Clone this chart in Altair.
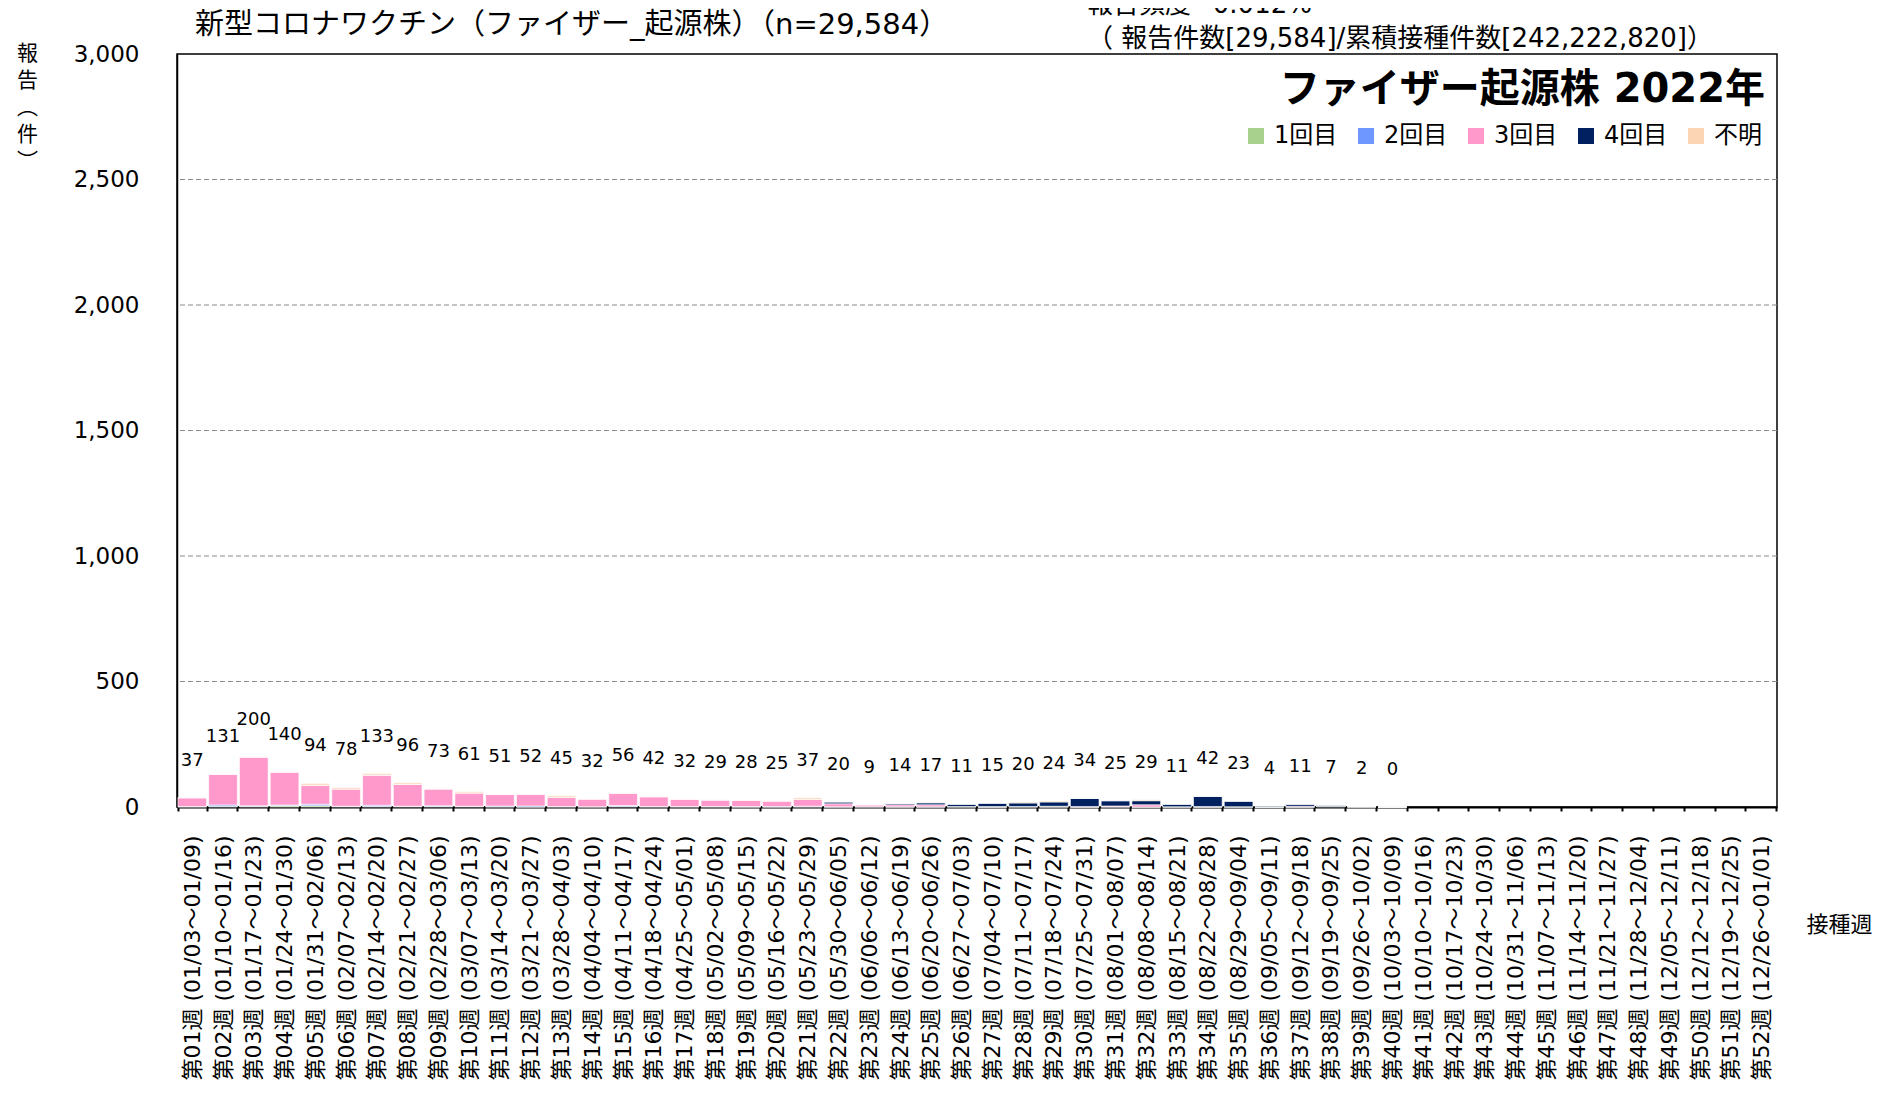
import altair as alt
import pandas as pd

weeks = [
    "第01週 (01/03～01/09)", "第02週 (01/10～01/16)", "第03週 (01/17～01/23)", "第04週 (01/24～01/30)",
    "第05週 (01/31～02/06)", "第06週 (02/07～02/13)", "第07週 (02/14～02/20)", "第08週 (02/21～02/27)",
    "第09週 (02/28～03/06)", "第10週 (03/07～03/13)", "第11週 (03/14～03/20)", "第12週 (03/21～03/27)",
    "第13週 (03/28～04/03)", "第14週 (04/04～04/10)", "第15週 (04/11～04/17)", "第16週 (04/18～04/24)",
    "第17週 (04/25～05/01)", "第18週 (05/02～05/08)", "第19週 (05/09～05/15)", "第20週 (05/16～05/22)",
    "第21週 (05/23～05/29)", "第22週 (05/30～06/05)", "第23週 (06/06～06/12)", "第24週 (06/13～06/19)",
    "第25週 (06/20～06/26)", "第26週 (06/27～07/03)", "第27週 (07/04～07/10)", "第28週 (07/11～07/17)",
    "第29週 (07/18～07/24)", "第30週 (07/25～07/31)", "第31週 (08/01～08/07)", "第32週 (08/08～08/14)",
    "第33週 (08/15～08/21)", "第34週 (08/22～08/28)", "第35週 (08/29～09/04)", "第36週 (09/05～09/11)",
    "第37週 (09/12～09/18)", "第38週 (09/19～09/25)", "第39週 (09/26～10/02)", "第40週 (10/03～10/09)",
    "第41週 (10/10～10/16)", "第42週 (10/17～10/23)", "第43週 (10/24～10/30)", "第44週 (10/31～11/06)",
    "第45週 (11/07～11/13)", "第46週 (11/14～11/20)", "第47週 (11/21～11/27)", "第48週 (11/28～12/04)",
    "第49週 (12/05～12/11)", "第50週 (12/12～12/18)", "第51週 (12/19～12/25)", "第52週 (12/26～01/01)",
]

dose_names = ["1回目", "2回目", "3回目", "4回目", "不明"]
dose_colors = ["#A9D18E", "#6E98FF", "#FF99CC", "#002060", "#FCD5B4"]

# weeks 1-40 (weeks 41-52 have no reports)
dose1 = [1, 3, 3, 5, 5, 2, 2, 2, 2, 2, 1, 0, 1, 1, 2, 1, 1, 1, 0, 0,
         1, 0, 1, 0, 0, 1, 0, 1, 0, 0, 1, 0, 0, 0, 0, 0, 0, 2, 0, 0]
dose2 = [1, 5, 2, 3, 6, 1, 5, 1, 3, 1, 3, 4, 1, 0, 4, 1, 1, 1, 2, 2,
         2, 1, 0, 1, 1, 0, 0, 0, 2, 0, 0, 0, 1, 0, 1, 0, 0, 0, 1, 0]
dose3 = [35, 122, 194, 131, 76, 69, 120, 87, 67, 53, 46, 47, 37, 31, 49, 39, 29, 26, 25, 22,
         28, 12, 8, 8, 8, 1, 2, 1, 1, 2, 3, 9, 0, 2, 0, 0, 3, 0, 0, 0]
dose4 = [0, 0, 0, 0, 0, 0, 0, 0, 0, 0, 0, 0, 0, 0, 0, 0, 0, 0, 0, 0,
         0, 7, 0, 5, 8, 9, 13, 14, 17, 32, 21, 16, 10, 40, 22, 4, 8, 5, 1, 0]
unknown = [0, 1, 1, 1, 7, 6, 6, 6, 1, 5, 1, 1, 6, 0, 1, 1, 1, 1, 1, 1,
           6, 0, 0, 0, 0, 0, 0, 4, 4, 0, 0, 4, 0, 0, 0, 0, 0, 0, 0, 0]
totals = [37, 131, 200, 140, 94, 78, 133, 96, 73, 61, 51, 52, 45, 32, 56, 42, 32, 29, 28, 25,
          37, 20, 9, 14, 17, 11, 15, 20, 24, 34, 25, 29, 11, 42, 23, 4, 11, 7, 2, 0]

y_ticks = [0, 500, 1000, 1500, 2000, 2500, 3000]
grid_values = [500, 1000, 1500, 2000, 2500]

main_title = "新型コロナワクチン（ファイザー_起源株）（n=29,584）"
note_line1 = "報告頻度=0.012%"
note_line2 = "（ 報告件数[29,584]/累積接種件数[242,222,820]）"
inner_title = "ファイザー起源株 2022年"

series = [dose1, dose2, dose3, dose4, unknown]
rows = []
for i in range(len(totals)):
    for j, name in enumerate(dose_names):
        rows.append({"week": weeks[i], "dose": name, "ord": j, "count": series[j][i]})
bars_df = pd.DataFrame(rows)
labels_df = pd.DataFrame({"week": weeks[:len(totals)], "total": totals})

CJK = "Noto Sans CJK JP"
LAT = "DejaVu Sans, Noto Sans CJK JP"

x_scale = alt.Scale(domain=weeks, paddingInner=0.07, paddingOuter=0.03)
y_scale = alt.Scale(domain=[0, 3000], nice=False)

grid = alt.Chart(pd.DataFrame({"g": grid_values})).mark_rule(
    color="#8a8a8a", strokeDash=[5, 3], strokeWidth=1
).encode(y=alt.Y("g:Q", scale=y_scale))

bars = alt.Chart(bars_df).mark_bar(stroke="white", strokeWidth=0.6).encode(
    x=alt.X("week:N", scale=x_scale, sort=weeks,
            axis=alt.Axis(title="接種週", titleX=1629, titleY=117, titleAlign="left",
                          titleBaseline="middle", titleAngle=0, titleFont=CJK,
                          titleFontSize=22, titleFontWeight="normal", titleColor="black",
                          labelAngle=270, labelFont=LAT, labelFontSize=22, labelColor="black",
                          labelPadding=24, labelLimit=400, labelOverlap=False,
                          tickSize=4, tickWidth=2, tickColor="black", tickBand="extent",
                          domainColor="black", domainWidth=2)),
    y=alt.Y("count:Q", stack="zero", scale=y_scale,
            axis=alt.Axis(values=y_ticks, format=",d", grid=False, ticks=False,
                          labelFont=LAT, labelFontSize=23, labelColor="black", labelPadding=38,
                          domainColor="black", domainWidth=1.5,
                          title=["報", "告", "︵", "件", "︶"], titleAngle=0, titleX=-150,
                          titleY=-12, titleAlign="center", titleBaseline="top",
                          titleFont=CJK, titleFontSize=21, titleFontWeight="normal",
                          titleColor="black", titleLineHeight=27)),
    color=alt.Color("dose:N", scale=alt.Scale(domain=dose_names, range=dose_colors),
                    legend=alt.Legend(title=None, orient="none", legendX=1067, legendY=70,
                                      direction="horizontal", symbolType="square",
                                      symbolSize=256, symbolStrokeWidth=0, symbolOpacity=1,
                                      labelFont=LAT, labelFontSize=24, labelColor="black",
                                      labelOffset=6, columnPadding=16)),
    order=alt.Order("ord:Q", sort="ascending"),
)

labels = alt.Chart(labels_df).mark_text(
    dy=-37, fontSize=18, font=LAT, baseline="middle", color="black"
).encode(x=alt.X("week:N", scale=x_scale, sort=weeks), y=alt.Y("total:Q", scale=y_scale),
         text=alt.Text("total:Q"))

def note(text, x, y, size, align="left", baseline="middle", weight="normal"):
    return alt.Chart(pd.DataFrame({"t": [text]})).mark_text(
        font=LAT, fontSize=size, align=align, baseline=baseline, fontWeight=weight, color="black"
    ).encode(x=alt.value(x), y=alt.value(y), text="t:N")

chart = alt.layer(
    grid, bars, labels,
    note(main_title, 18, -29, 29),
    note(note_line1, 910, -41, 26, baseline="alphabetic"),
    note(note_line2, 910, -7, 26, baseline="alphabetic"),
    note(inner_title, 1588, 36, 40, align="right", weight="bold"),
).properties(
    width=1600, height=753,
    autosize=alt.AutoSizeParams(type="none"),
    padding={"left": 169, "top": 46, "right": 100, "bottom": 280},
).configure_view(stroke="black", strokeWidth=1.5)

chart.save("out.html", embed_options={"renderer": "svg", "actions": False})
